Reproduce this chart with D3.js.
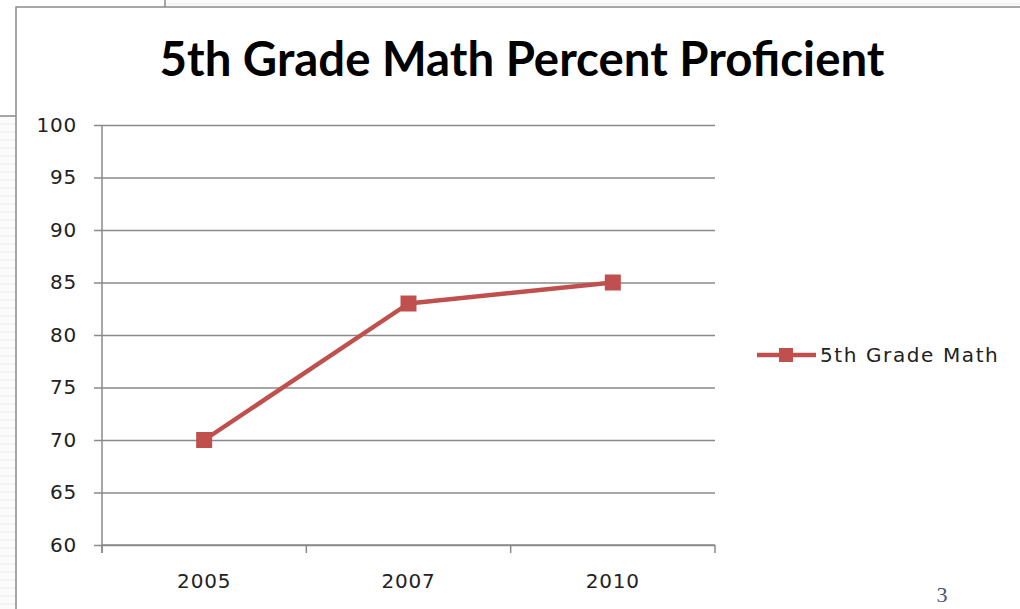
<!DOCTYPE html>
<html>
<head>
<meta charset="utf-8">
<script src="https://cdn.jsdelivr.net/npm/d3@7"></script>
<style>
  html, body { margin: 0; padding: 0; background: #fff; }
  svg { display: block; }
</style>
</head>
<body>
<svg width="1020" height="609"></svg>
<script>
// данные графика
const years = ['2005', '2007', '2010'];
const mathValues = [70, 83, 85];
const yTicks = [60, 65, 70, 75, 80, 85, 90, 95, 100];
const seriesName = '5th Grade Math';
const chartTitle = '5th Grade Math Percent Proficient';

const svg = d3.select('svg');
const gridColor = '#8a8a8a';
const lineColor = '#c0504d';
const labelColor = '#222';

// фон слайда с узором
const defs = svg.append('defs');
const pat = defs.append('pattern')
  .attr('id', 'zig')
  .attr('width', 8).attr('height', 8)
  .attr('patternUnits', 'userSpaceOnUse');
pat.append('rect').attr('width', 8).attr('height', 8).attr('fill', '#fbfbfb');
pat.append('path')
  .attr('d', 'M0,5 L2,3 L4,5 L6,3 L8,5')
  .attr('stroke', '#ececec').attr('fill', 'none').attr('stroke-width', 1);
svg.append('rect').attr('width', 1020).attr('height', 609).attr('fill', 'url(#zig)');

// задняя рамка слева сверху
svg.append('rect')
  .attr('x', -10).attr('y', -10).attr('width', 175).attr('height', 126)
  .attr('fill', '#fff').attr('stroke', gridColor).attr('stroke-width', 1.5);

// основная рамка диаграммы
svg.append('rect')
  .attr('x', 16).attr('y', 7).attr('width', 1020).attr('height', 620)
  .attr('fill', '#fff').attr('stroke', gridColor).attr('stroke-width', 1.5);

const plotLeft = 102, plotRight = 715, plotTop = 125, plotBottom = 545;

const x = d3.scaleBand().domain(years).range([plotLeft, plotRight]);
const y = d3.scaleLinear().domain([60, 100]).range([plotBottom, plotTop]);

// сетка
const grid = svg.append('g')
  .attr('transform', `translate(${plotLeft},0)`)
  .call(d3.axisLeft(y).tickValues(yTicks).tickSize(-(plotRight - plotLeft)).tickFormat(''));
grid.select('.domain').remove();
grid.selectAll('line').attr('stroke', gridColor).attr('stroke-width', 1.5);

// ось Y
const yAxis = svg.append('g')
  .attr('transform', `translate(${plotLeft},0)`)
  .call(d3.axisLeft(y).tickValues(yTicks).tickSize(8).tickPadding(17));
yAxis.select('.domain').remove();
yAxis.selectAll('line').attr('stroke', gridColor).attr('stroke-width', 1.5);
yAxis.selectAll('text')
  .attr('font-family', 'DejaVu Sans').attr('font-size', 20)
  .attr('letter-spacing', 0.8)
  .attr('fill', labelColor);
svg.append('line')
  .attr('x1', plotLeft).attr('x2', plotLeft).attr('y1', plotTop).attr('y2', plotBottom + 8)
  .attr('stroke', gridColor).attr('stroke-width', 1.5);

// ось X
const xAxis = svg.append('g')
  .attr('transform', `translate(0,${plotBottom})`)
  .call(d3.axisBottom(x).tickSize(0).tickPadding(29));
xAxis.select('.domain').remove();
xAxis.selectAll('text')
  .attr('font-family', 'DejaVu Sans').attr('font-size', 20)
  .attr('letter-spacing', 0.8)
  .attr('fill', labelColor);
svg.append('line')
  .attr('x1', plotLeft).attr('x2', plotRight).attr('y1', plotBottom).attr('y2', plotBottom)
  .attr('stroke', gridColor).attr('stroke-width', 1.5);
const edges = years.map(d => x(d)).concat([x(years[years.length - 1]) + x.bandwidth()]);
svg.append('g').selectAll('line').data(edges).join('line')
  .attr('x1', d => d).attr('x2', d => d)
  .attr('y1', plotBottom).attr('y2', plotBottom + 8)
  .attr('stroke', gridColor).attr('stroke-width', 1.5);

// линия серии
const pts = years.map((d, i) => ({ x: x(d) + x.bandwidth() / 2, y: y(mathValues[i]) }));
const line = d3.line().x(d => d.x).y(d => d.y);
svg.append('path')
  .attr('d', line(pts))
  .attr('stroke', lineColor).attr('stroke-width', 4.5)
  .attr('fill', 'none').attr('stroke-linejoin', 'round');
svg.append('g').selectAll('rect').data(pts).join('rect')
  .attr('x', d => d.x - 8).attr('y', d => d.y - 8)
  .attr('width', 16).attr('height', 16)
  .attr('fill', lineColor);

// легенда
const lg = svg.append('g').attr('transform', 'translate(757,355)');
lg.append('line').attr('x1', 0).attr('x2', 59).attr('y1', 0).attr('y2', 0)
  .attr('stroke', lineColor).attr('stroke-width', 4.5);
lg.append('rect').attr('x', 22).attr('y', -7).attr('width', 14).attr('height', 14)
  .attr('fill', lineColor);
lg.append('text').attr('x', 63).attr('y', 7)
  .attr('font-family', 'DejaVu Sans').attr('font-size', 20)
  .attr('letter-spacing', 1.6)
  .attr('fill', labelColor).text(seriesName);

// заголовок
const title = svg.append('text')
  .attr('x', 522).attr('y', 76)
  .attr('text-anchor', 'middle')
  .attr('font-family', 'Lato').attr('font-weight', 'bold')
  .attr('font-size', 40).attr('fill', '#000')
  .text(chartTitle);
const tw = title.node().getComputedTextLength();
title.attr('font-size', 40 * 725 / tw);

// номер слайда
svg.append('text')
  .attr('x', 942).attr('y', 602)
  .attr('text-anchor', 'middle')
  .attr('font-family', 'Liberation Serif').attr('font-size', 22)
  .attr('fill', '#4a5570').text('3');
</script>
</body>
</html>
